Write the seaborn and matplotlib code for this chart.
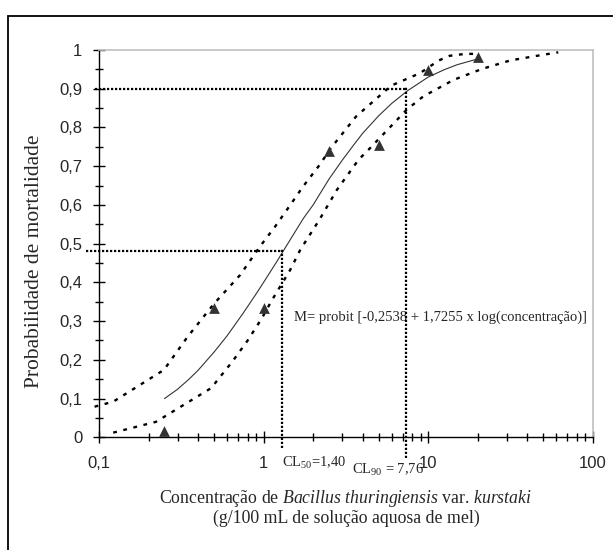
import matplotlib
matplotlib.use("Agg")
import matplotlib.pyplot as plt
import seaborn as sns
from matplotlib.patches import Rectangle
from matplotlib.ticker import LogLocator, MultipleLocator, FixedLocator, FuncFormatter, NullFormatter

# --- Dados ---
conc_obs = [0.25, 0.5, 1.0, 2.5, 5.0, 10.0, 20.0]
mort_obs = [0.015, 0.333, 0.333, 0.738, 0.755, 0.949, 0.983]

conc_fit = [0.25, 0.3, 0.35, 0.4, 0.5, 0.6, 0.75, 0.9, 1.0, 1.2, 1.5, 1.75, 2.0, 2.5, 3.0,
            3.5, 4.0, 5.0, 6.0, 7.5, 10.0, 12.5, 15.0, 20.0]
mort_fit = [0.10, 0.124, 0.149, 0.173, 0.22, 0.262, 0.32, 0.37, 0.40, 0.453, 0.52, 0.566, 0.60,
            0.667, 0.715, 0.753, 0.785, 0.83, 0.862, 0.895, 0.93, 0.949, 0.962, 0.977]

conc_sup = [0.094, 0.122, 0.248, 0.346, 0.5, 0.72, 0.95, 1.17, 1.41, 1.74, 2.16, 2.59,
            3.64, 5.96, 8.9, 11.6, 13.5, 16.8, 18.8]
mort_sup = [0.079, 0.092, 0.174, 0.26, 0.345, 0.419, 0.4925, 0.543, 0.592, 0.648, 0.70, 0.749,
            0.828, 0.908, 0.94, 0.973, 0.985, 0.99, 0.99]

conc_inf = [0.122, 0.222, 0.48, 0.65, 0.80, 0.975, 1.12, 1.45, 1.67, 2.17, 2.79, 3.78, 4.33,
            7.41, 9.32, 14.3, 21.2, 31.5, 45.8, 61.7]
mort_inf = [0.012, 0.04, 0.127, 0.197, 0.25, 0.307, 0.353, 0.432, 0.484, 0.56, 0.639, 0.717, 0.742,
            0.846, 0.88, 0.923, 0.951, 0.973, 0.985, 0.994]

# CL50 e CL90 (linhas guia)
cl_conc = [1.29, 7.35]
cl_prob = [0.48, 0.90]
guia_esq = [0.083, 0.094]
guia_baixo = [-0.028, -0.053]
cl_textos = ["CL$_{50}$=1,40", "CL$_{90}$ = 7,76"]
cl_texto_x = [1.29, 3.46]
cl_texto_y = [-0.066, -0.084]

x_ticks = [0.1, 1, 10, 100]
x_labels = ["0,1", "1", "10", "100"]

serif = ["Liberation Serif", "DejaVu Serif"]

sns.set_style("ticks")
plt.rcParams["font.family"] = ["Liberation Sans", "DejaVu Sans"]
plt.rcParams["mathtext.fontset"] = "custom"
plt.rcParams["mathtext.rm"] = "Liberation Serif"
plt.rcParams["mathtext.it"] = "Liberation Serif:italic"

fig = plt.figure(figsize=(6.13, 5.5), dpi=100)
fig.patch.set_facecolor("white")
ax = fig.add_axes([0.1615, 0.2049, 0.8055, 0.7042])
ax.set_facecolor("white")

# moldura externa
fig.patches.append(Rectangle((8 / 613, -0.1), 1.2, 0.9709 + 0.1, transform=fig.transFigure,
                             fill=False, lw=1.3, ec="black"))

# linhas guia pontilhadas
for cx, cy, x0, y0 in zip(cl_conc, cl_prob, guia_esq, guia_baixo):
    ax.plot([x0, cx], [cy, cy], color="black", lw=1.6, ls=(0, (1, 0.8)), clip_on=False, zorder=3)
    ax.plot([cx, cx], [y0, cy + 0.008], color="black", lw=1.6, ls=(0, (1, 0.8)), clip_on=False, zorder=3)

# intervalos de confianca
sns.lineplot(x=conc_sup, y=mort_sup, ax=ax, color="black", lw=1.7, linestyle=(0, (1.6, 2.8)),
             clip_on=False, zorder=2)
sns.lineplot(x=conc_inf, y=mort_inf, ax=ax, color="black", lw=1.7, linestyle=(0, (1.6, 2.8)),
             clip_on=False, zorder=2)

# curva ajustada
sns.lineplot(x=conc_fit, y=mort_fit, ax=ax, color="#333333", lw=0.8, zorder=2)

# observados
sns.scatterplot(x=conc_obs, y=mort_obs, ax=ax, marker="^", s=60, color="#333333",
                linewidth=0, clip_on=False, zorder=4)

ax.set_xscale("log")
ax.set_xlim(0.1, 100)
ax.set_ylim(0, 1)

ax.xaxis.set_major_locator(FixedLocator(x_ticks))
ax.set_xticklabels(x_labels)
ax.xaxis.set_minor_locator(LogLocator(base=10, subs=[2, 3, 4, 5, 6, 7, 8, 9]))
ax.xaxis.set_minor_formatter(NullFormatter())
ax.yaxis.set_major_locator(MultipleLocator(0.1))
ax.yaxis.set_minor_locator(MultipleLocator(0.05))
ax.yaxis.set_major_formatter(FuncFormatter(lambda v, p: ("%.1f" % v).replace(".", ",")
                                           if 0.01 < v < 0.99 else "%d" % round(v)))

ax.tick_params(which="major", direction="inout", length=9, width=1, color="black", labelsize=12)
ax.tick_params(which="minor", direction="inout", length=6, width=1, color="black")
ax.tick_params(axis="y", which="major", pad=7.5)
ax.tick_params(axis="x", which="major", pad=9)

for s in ["left", "bottom"]:
    ax.spines[s].set_color("black")
    ax.spines[s].set_linewidth(1)
for s in ["top", "right"]:
    ax.spines[s].set_color("#c0c0c0")
    ax.spines[s].set_linewidth(1.2)

# textos
ax.text(1.53, 0.31, "M= probit [-0,2538 + 1,7255 x log(concentração)]", fontsize=10.5,
        family=serif, va="center", ha="left", zorder=1)
for t, tx, ty in zip(cl_textos, cl_texto_x, cl_texto_y):
    ax.text(tx, ty, t, fontsize=10.5, family=serif, va="center", ha="left")

ax.set_ylabel("Probabilidade de mortalidade", fontsize=15.5, family=serif)
ax.yaxis.label.set_va("center")
ax.yaxis.set_label_coords(-0.1306, 0.4537)

ax.set_xlabel("Concentração de $\\it{Bacillus\\ thuringiensis}$ var. $\\it{kurstaki}$\n"
              "(g/100 mL de solução aquosa de mel)", fontsize=12.8, family=serif, linespacing=1.1)
ax.xaxis.label.set_va("center")
ax.xaxis.set_label_coords(0.5, -0.181)

plt.savefig("out.png", dpi=100)
plt.close()
